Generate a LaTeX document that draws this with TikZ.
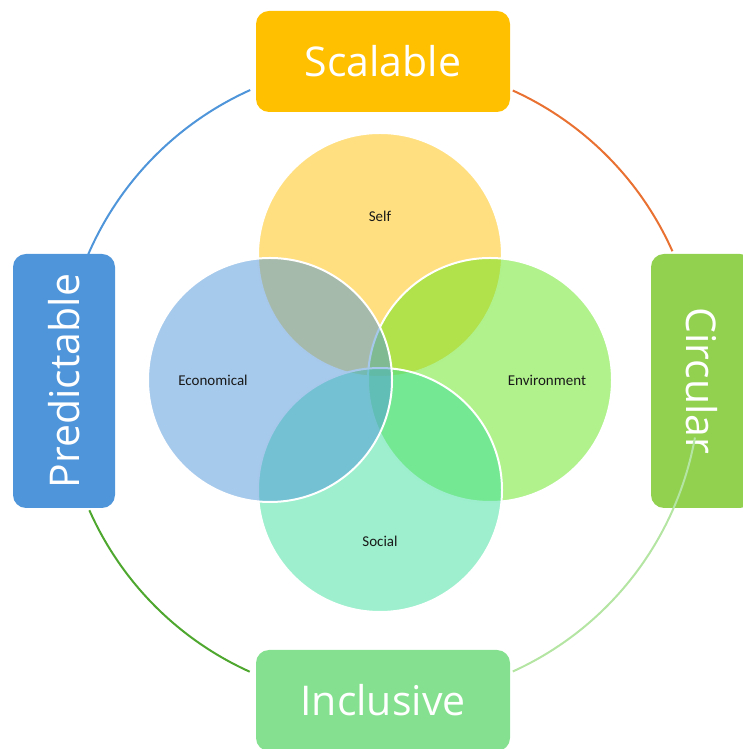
\documentclass[tikz,border=0pt]{standalone}
\usetikzlibrary{calc}
\usepackage{fontspec}
\setmainfont{Open Sans}
\newfontfamily\labelfont{Carlito}
\definecolor{cScal}{HTML}{FFC000}
\definecolor{cPred}{HTML}{4E95D9}
\definecolor{cCirc}{HTML}{92D050}
\definecolor{cIncl}{HTML}{85E18F}
\definecolor{cArcOrange}{HTML}{E97132}
\definecolor{cArcDark}{HTML}{4EA72E}
\definecolor{cArcLight}{HTML}{B4E5A2}
\definecolor{cSelf}{HTML}{FFC000}
\definecolor{cEcon}{HTML}{4E95D9}
\definecolor{cEnv}{HTML}{63E51A}
\definecolor{cSoc}{HTML}{3BDF9B}
\begin{document}
\begin{tikzpicture}[x=1pt,y=1pt,
  vennset/.style={circle, minimum size=244pt, inner sep=0pt, draw=white,
    line width=2pt, fill=#1, fill opacity=0.5},
  vennlabel/.style={font=\labelfont\fontsize{15}{18}\selectfont, text=black!90, inner sep=0pt},
  pillar/.style={rounded corners=13pt, fill=#1, draw=none, text=white,
    font=\fontsize{41}{48}\selectfont, inner sep=0pt},
  wide/.style={minimum width=254pt, minimum height=101pt},
  ring/.style={line width=2pt, draw=#1}
]
\useasboundingbox (0,0) rectangle (743,749);

% overlapping sets
\node[vennset=cSelf] (self) at (380,494) {};
\node[vennset=cEnv]  (env)  at (490,369) {};
\node[vennset=cSoc]  (soc)  at (380,259) {};
\node[vennset=cEcon] (econ) at (270,369) {};

\node[vennlabel] (selfL) at (380,533) {Self};
\node[vennlabel] (econL) at (213,369) {Economical};
\node[vennlabel] (envL)  at (547,369) {Environment};
\node[vennlabel] (socL)  at (380,208) {Social};

% the four qualities
\node[pillar=cScal, wide] (scal) at (383,687.5) {Scalable};
\node[pillar=cIncl, wide] (incl) at (383,48.5) {Inclusive};
\node[pillar=cPred, wide, minimum height=102pt, rotate=90] (pred) at (64,368) {Predictable};
\node[pillar=cCirc, wide, minimum height=102pt, rotate=-90] (circ) at (702,368) {Circular};

% outer ring segments
\coordinate (ctr) at (381,368);
\draw[ring=cPred]      ($(ctr)+(114.2:319)$) coordinate (bA) arc[start angle=114.2, end angle=156.7, radius=319] coordinate (bB);
\draw[ring=cArcOrange] ($(ctr)+(65.6:319)$)  coordinate (oA) arc[start angle=65.6,  end angle=24.0,  radius=319] coordinate (oB);
\draw[ring=cArcDark]   ($(ctr)+(203.9:319)$) coordinate (gA) arc[start angle=203.9, end angle=245.7, radius=319] coordinate (gB);
\draw[ring=cArcLight]  ($(ctr)+(-65.6:319)$) coordinate (lA) arc[start angle=-65.6, end angle=-10.2, radius=319] coordinate (lB);
\end{tikzpicture}
\end{document}
